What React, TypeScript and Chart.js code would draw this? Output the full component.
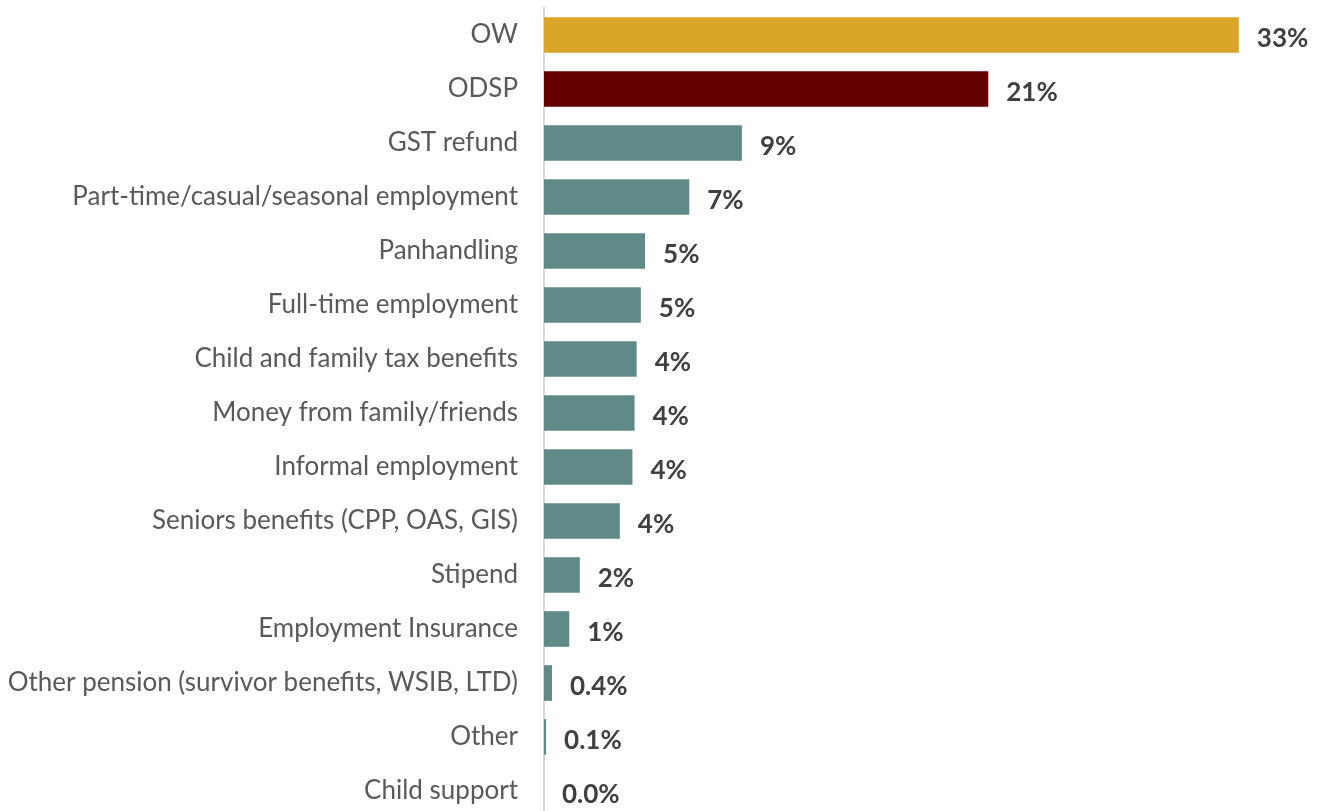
import React, { useEffect, useRef } from "react";
import { Chart, registerables } from "chart.js";

Chart.register(...registerables);

const categories = [
  "OW",
  "ODSP",
  "GST refund",
  "Part-time/casual/seasonal employment",
  "Panhandling",
  "Full-time employment",
  "Child and family tax benefits",
  "Money from family/friends",
  "Informal employment",
  "Seniors benefits (CPP, OAS, GIS)",
  "Stipend",
  "Employment Insurance",
  "Other pension (survivor benefits, WSIB, LTD)",
  "Other",
  "Child support",
];

const values = [33.0, 21.1, 9.4, 6.9, 4.8, 4.6, 4.4, 4.3, 4.2, 3.6, 1.7, 1.2, 0.38, 0.1, 0.0];

const valueLabels = ["33%", "21%", "9%", "7%", "5%", "5%", "4%", "4%", "4%", "4%", "2%", "1%", "0.4%", "0.1%", "0.0%"];

const barColors = [
  "#DBA52A",
  "#630000",
  "#5F8A87", "#5F8A87", "#5F8A87", "#5F8A87", "#5F8A87", "#5F8A87",
  "#5F8A87", "#5F8A87", "#5F8A87", "#5F8A87", "#5F8A87", "#5F8A87", "#5F8A87",
];

const valueLabelPlugin = {
  id: "valueLabels",
  afterDatasetsDraw(chart: any) {
    const ctx = chart.ctx;
    const meta = chart.getDatasetMeta(0);
    ctx.save();
    ctx.font = "bold 26px Lato";
    ctx.fillStyle = "#404040";
    ctx.textAlign = "left";
    ctx.textBaseline = "middle";
    meta.data.forEach((el: any, i: number) => {
      ctx.fillText(valueLabels[i], el.x + 18, el.y + 4);
    });
    ctx.restore();
  },
};

export default function App() {
  const ref = useRef<HTMLCanvasElement | null>(null);
  useEffect(() => {
    document.body.style.margin = "0";
    if (!ref.current) return;
    const chart = new Chart(ref.current, {
      type: "bar",
      data: {
        labels: categories,
        datasets: [
          {
            data: values,
            backgroundColor: barColors,
            borderWidth: 0,
            barPercentage: 0.66,
            categoryPercentage: 1,
          },
        ],
      },
      options: {
        indexAxis: "y",
        animation: false,
        responsive: false,
        maintainAspectRatio: false,
        layout: { padding: { top: 8, right: 23, bottom: 0, left: 0 } },
        plugins: { legend: { display: false }, tooltip: { enabled: false } },
        scales: {
          x: {
            display: false,
            min: 0,
            max: 36,
          },
          y: {
            grid: { display: false, drawTicks: false },
            border: { display: true, color: "#d9d9d9", width: 2 },
            ticks: {
              color: "#595959",
              font: { family: "Lato", size: 26 },
              padding: 26,
            },
            afterFit(scale: any) {
              scale.width = 544;
              scale.paddingTop = 0;
              scale.paddingBottom = 0;
            },
          },
        },
      },
      plugins: [valueLabelPlugin],
    });
    return () => chart.destroy();
  }, []);
  return (
    <div style={{ width: 1325, height: 818 }}>
      <canvas ref={ref} width={1325} height={818} style={{ display: "block" }} />
    </div>
  );
}
